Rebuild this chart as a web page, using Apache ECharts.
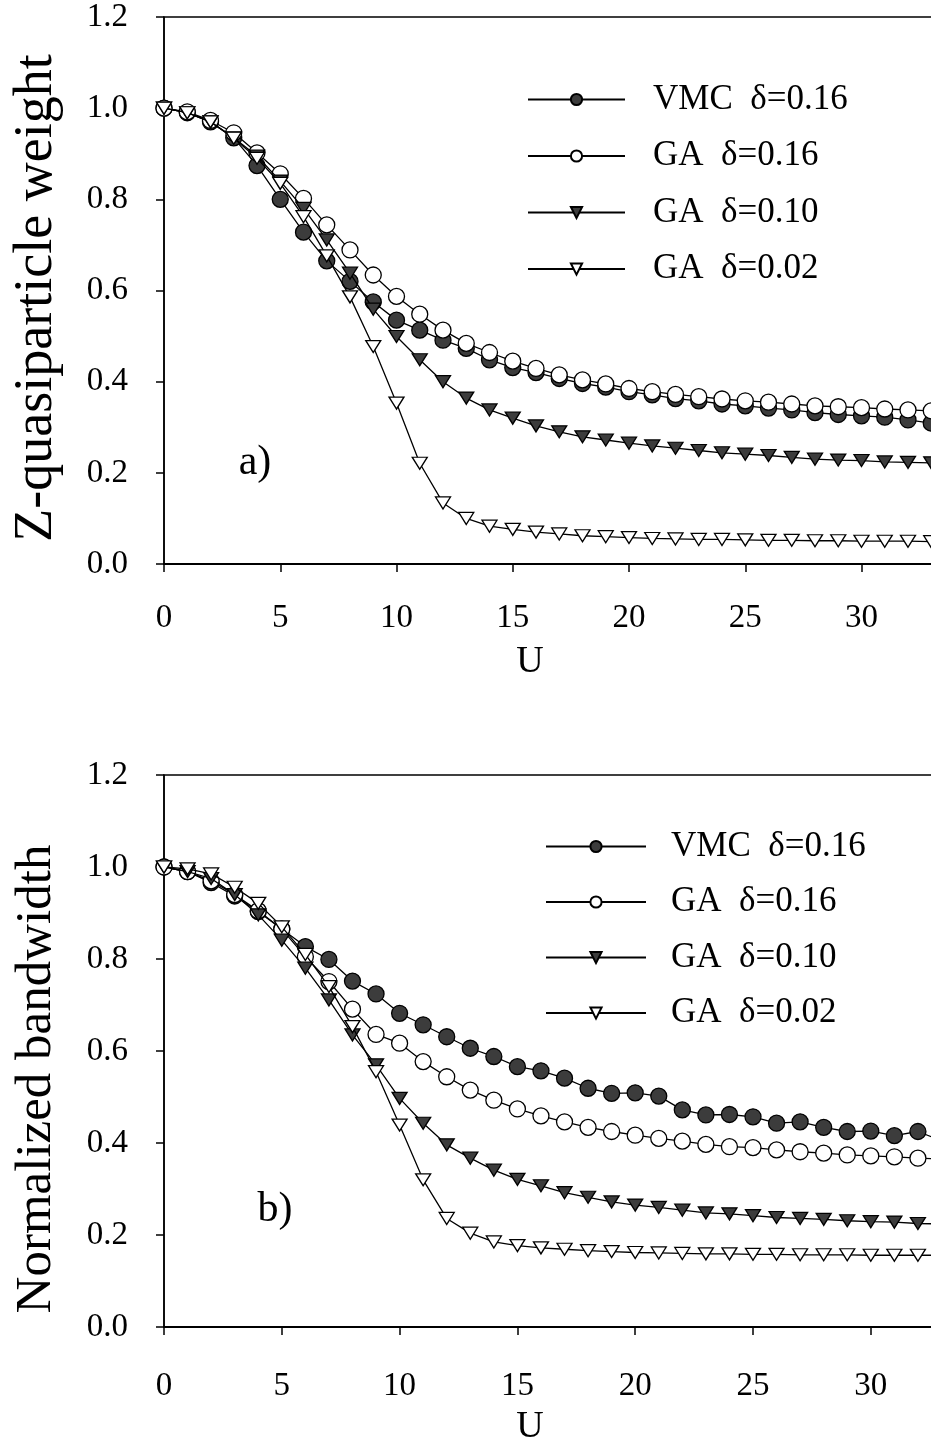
<!DOCTYPE html>
<html>
<head>
<meta charset="utf-8">
<script src="https://cdn.jsdelivr.net/npm/echarts@6/dist/echarts.min.js"></script>
<style>
  html, body { margin: 0; padding: 0; background: #fff; }
  #chart { width: 931px; height: 1442px; }
</style>
</head>
<body>
<div id="chart"></div>
<script>
// Hubbard interaction strength U (integer steps)
const uValues = [0,1,2,3,4,5,6,7,8,9,10,11,12,13,14,15,16,17,18,19,20,21,22,23,24,25,26,27,28,29,30,31,32,33];

const seriesNames = ['VMC  δ=0.16', 'GA  δ=0.16', 'GA  δ=0.10', 'GA  δ=0.02'];

// Panel a) Z-quasiparticle weight
const zVmc016 = [1.0,0.99,0.97,0.935,0.874,0.80,0.728,0.665,0.62,0.575,0.535,0.513,0.491,0.473,0.448,0.431,0.42,0.407,0.396,0.388,0.378,0.371,0.363,0.358,0.351,0.347,0.342,0.338,0.332,0.328,0.325,0.322,0.316,0.309];
const zGa016  = [1.0,0.992,0.973,0.946,0.902,0.856,0.802,0.744,0.689,0.634,0.587,0.548,0.513,0.484,0.464,0.445,0.429,0.415,0.404,0.395,0.385,0.378,0.372,0.367,0.362,0.358,0.355,0.351,0.347,0.345,0.343,0.340,0.338,0.336];
const zGa010  = [1.0,0.99,0.97,0.935,0.895,0.84,0.78,0.711,0.638,0.559,0.499,0.448,0.400,0.364,0.338,0.320,0.303,0.290,0.279,0.272,0.265,0.259,0.254,0.249,0.244,0.241,0.238,0.234,0.230,0.228,0.227,0.224,0.223,0.222];
const zGa002  = [1.0,0.99,0.97,0.934,0.89,0.835,0.762,0.676,0.586,0.477,0.353,0.221,0.134,0.100,0.083,0.076,0.070,0.066,0.062,0.060,0.058,0.056,0.055,0.054,0.054,0.053,0.052,0.052,0.051,0.051,0.050,0.050,0.050,0.049];

// Panel b) normalized bandwidth
const bVmc016 = [1.0,0.99,0.966,0.937,0.903,0.865,0.827,0.799,0.752,0.724,0.682,0.657,0.631,0.606,0.588,0.566,0.557,0.541,0.519,0.508,0.509,0.502,0.472,0.461,0.462,0.457,0.443,0.446,0.434,0.425,0.426,0.416,0.425,0.405];
const bGa016  = [1.0,0.99,0.97,0.94,0.905,0.865,0.805,0.751,0.691,0.636,0.617,0.577,0.544,0.515,0.493,0.474,0.459,0.446,0.434,0.425,0.417,0.410,0.404,0.397,0.392,0.390,0.385,0.381,0.378,0.374,0.372,0.370,0.367,0.365];
const bGa010  = [1.0,0.99,0.975,0.94,0.896,0.841,0.780,0.711,0.635,0.570,0.497,0.443,0.396,0.367,0.341,0.321,0.307,0.292,0.282,0.272,0.265,0.260,0.254,0.248,0.246,0.242,0.238,0.236,0.234,0.231,0.229,0.228,0.225,0.224];
const bGa002  = [1.0,0.996,0.985,0.956,0.921,0.870,0.81,0.740,0.653,0.555,0.439,0.320,0.236,0.204,0.185,0.177,0.172,0.169,0.166,0.164,0.162,0.161,0.160,0.159,0.159,0.158,0.158,0.157,0.157,0.157,0.156,0.156,0.156,0.156];

const yTickLabels = ['0.0','0.2','0.4','0.6','0.8','1.0','1.2'];

const FONT = 'Liberation Serif';
const INK = '#000';
const DARK = '#3c3c3c';

const markerStyles = [
  { symbol: 'circle',   symbolSize: 16,       symbolRotate: 0,   fill: DARK },
  { symbol: 'circle',   symbolSize: 16,       symbolRotate: 0,   fill: '#fff' },
  { symbol: 'triangle', symbolSize: [15, 12], symbolRotate: 180, fill: DARK },
  { symbol: 'triangle', symbolSize: [15, 12], symbolRotate: 180, fill: '#fff' }
];

function pairs(vals) {
  return uValues.map((u, i) => [u, vals[i]]);
}

function makeSeries(vals, idx, panel) {
  const m = markerStyles[idx];
  return {
    type: 'line',
    name: seriesNames[idx],
    xAxisIndex: panel,
    yAxisIndex: panel,
    data: pairs(vals),
    symbol: m.symbol,
    symbolSize: m.symbolSize,
    symbolRotate: m.symbolRotate,
    showAllSymbol: true,
    lineStyle: { color: INK, width: 1.3 },
    itemStyle: { color: m.fill, borderColor: INK, borderWidth: 1.3 },
    emphasis: { disabled: true },
    z: 2 + idx
  };
}

function xAxisFor(gridIndex, labelMargin) {
  return {
    type: 'value', gridIndex: gridIndex,
    min: 0, max: 35, interval: 5,
    axisLine: { show: true, onZero: false, lineStyle: { color: INK, width: 2 } },
    axisTick: { show: true, inside: false, length: 8, lineStyle: { color: INK, width: 1.5 } },
    axisLabel: { fontFamily: FONT, fontSize: 33, color: INK, margin: labelMargin },
    splitLine: { show: false }
  };
}

function yAxisFor(gridIndex) {
  return {
    type: 'value', gridIndex: gridIndex,
    min: 0, max: 1.2, interval: 0.2,
    axisLine: { show: true, onZero: false, lineStyle: { color: INK, width: 1.5 } },
    axisTick: { show: true, inside: false, length: 8, lineStyle: { color: INK, width: 1.5 } },
    axisLabel: {
      fontFamily: FONT, fontSize: 33, color: INK, margin: 36,
      formatter: v => yTickLabels[Math.round(v / 0.2)]
    },
    splitLine: { show: false }
  };
}

function legendFor(left, top, itemWidth, gap, textPad) {
  return {
    orient: 'vertical', left: left, top: top,
    itemWidth: itemWidth, itemHeight: 14, itemGap: gap,
    selectedMode: false,
    data: seriesNames,
    textStyle: { fontFamily: FONT, fontSize: 35, color: INK, padding: [0, 0, 0, textPad] }
  };
}

// Centered text used for axis titles and panel tags
function label(text, x, y, size, rotated) {
  return {
    type: 'text', x: x, y: y, rotation: rotated ? Math.PI / 2 : 0,
    style: { text: text, fontFamily: FONT, fontSize: size, fill: INK, align: 'center', verticalAlign: 'middle' }
  };
}

const chart = echarts.init(document.getElementById('chart'), null, { renderer: 'canvas' });

// The plotting area runs past the right edge of the page, so the frame's
// right side and the last tick (35) fall outside the visible canvas.
chart.setOption({
  animation: false,
  backgroundColor: '#fff',
  grid: [
    { left: 164, top: 17, width: 35 * 23.25, height: 547, outerBoundsMode: 'none', containLabel: false,
      show: true, borderColor: INK, borderWidth: 1.5, backgroundColor: 'transparent' },
    { left: 164, top: 775, width: 35 * 23.56, height: 552, outerBoundsMode: 'none', containLabel: false,
      show: true, borderColor: INK, borderWidth: 1.5, backgroundColor: 'transparent' }
  ],
  xAxis: [xAxisFor(0, 38), xAxisFor(1, 43)],
  yAxis: [yAxisFor(0), yAxisFor(1)],
  legend: [
    legendFor(522, 77, 97, 21.5, 23),
    legendFor(540, 824, 100, 20.5, 20)
  ],
  graphic: [
    label('Z-quasiparticle weight', 37, 298, 54, true),
    label('Normalized bandwidth', 37, 1079, 51, true),
    label('U', 530, 662, 38, false),
    label('U', 530, 1427, 38, false),
    label('a)', 255, 463, 42, false),
    label('b)', 275, 1210, 42, false)
  ],
  series: [
    makeSeries(zVmc016, 0, 0),
    makeSeries(zGa016, 1, 0),
    makeSeries(zGa010, 2, 0),
    makeSeries(zGa002, 3, 0),
    makeSeries(bVmc016, 0, 1),
    makeSeries(bGa016, 1, 1),
    makeSeries(bGa010, 2, 1),
    makeSeries(bGa002, 3, 1)
  ]
});
</script>
</body>
</html>
